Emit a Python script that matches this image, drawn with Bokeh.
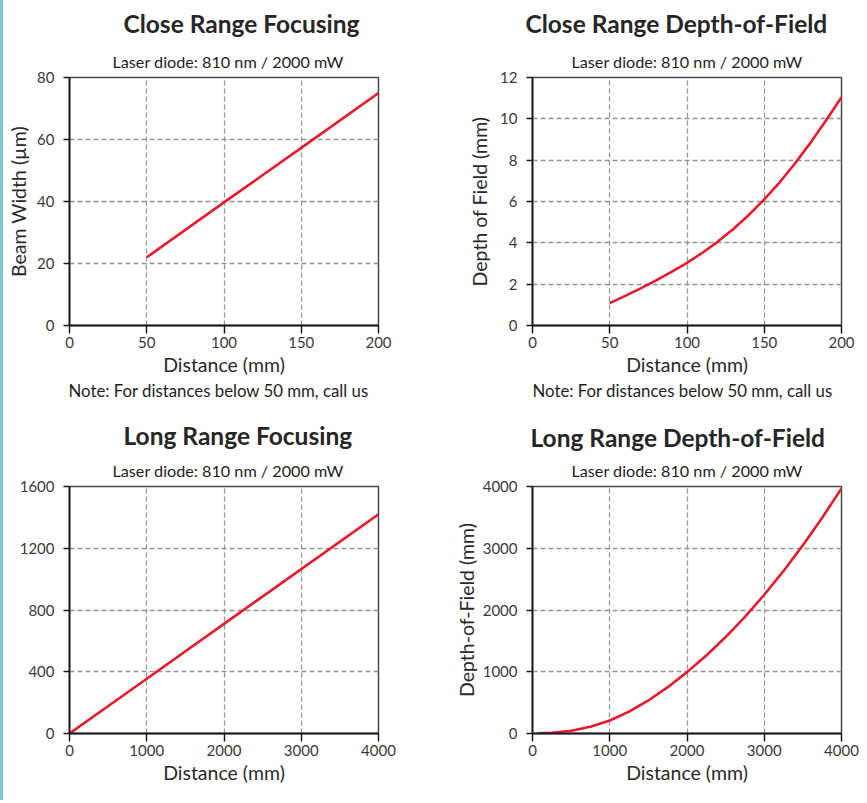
from bokeh.plotting import figure
from bokeh.models import Title, FixedTicker, Range1d, Div
from bokeh.layouts import column, row
from bokeh.embed import file_html
from bokeh.resources import INLINE

FONT = "Lato"

# ---------------- data ----------------
subtitle = "Laser diode: 810 nm / 2000 mW"
note_text = "Note: For distances below 50 mm, call us"
x_label = "Distance (mm)"

cr_focus_title = "Close Range Focusing"
cr_focus_ylabel = "Beam Width (µm)"
cr_focus_x = [50, 100, 150, 200]
cr_focus_y = [22.0, 39.7, 57.3, 75.0]
cr_xticks = [0, 50, 100, 150, 200]
cr_focus_yticks = [0, 20, 40, 60, 80]

cr_dof_title = "Close Range Depth-of-Field"
cr_dof_ylabel = "Depth of Field (mm)"
cr_dof_x = [50, 60, 70, 80, 90, 100, 110, 120, 130, 140, 150, 160, 170, 180, 190, 200]
cr_dof_y = [1.08, 1.43, 1.80, 2.18, 2.59, 3.03, 3.52, 4.06, 4.67, 5.35, 6.10,
            6.93, 7.85, 8.85, 9.92, 11.05]
cr_dof_yticks = [0, 2, 4, 6, 8, 10, 12]

lr_focus_title = "Long Range Focusing"
lr_focus_x = [0, 1000, 2000, 3000, 4000]
lr_focus_y = [0, 355, 710, 1065, 1420]
lr_xticks = [0, 1000, 2000, 3000, 4000]
lr_focus_yticks = [0, 400, 800, 1200, 1600]

lr_dof_title = "Long Range Depth-of-Field"
lr_dof_ylabel = "Depth-of-Field (mm)"
lr_dof_x = [65, 250, 500, 750, 1000, 1250, 1500, 1750, 2000, 2250, 2500,
            2750, 3000, 3250, 3500, 3750, 4000]
lr_dof_y = [3, 12, 45, 110, 210, 355, 535, 750, 994, 1263, 1562,
            1890, 2247, 2633, 3049, 3494, 3968]
lr_dof_yticks = [0, 1000, 2000, 3000, 4000]

RED = "#e8192c"


def make_fig(xmax, ymax, xticks, yticks, bl, br, bt, bb, fh):
    p = figure(frame_width=309, frame_height=fh,
               min_border_left=bl, min_border_right=br,
               min_border_top=bt, min_border_bottom=bb,
               x_range=Range1d(0, xmax), y_range=Range1d(0, ymax),
               output_backend="svg", toolbar_location=None, tools="")
    p.background_fill_color = "white"
    p.border_fill_color = "white"
    p.outline_line_color = "#4a4a4a"
    p.outline_line_width = 1.5
    p.xaxis.ticker = FixedTicker(ticks=xticks)
    p.yaxis.ticker = FixedTicker(ticks=yticks)
    for ax in (p.xaxis, p.yaxis):
        ax.axis_line_color = "#1a1a1a"
        ax.axis_line_width = 1.8
        ax.major_tick_line_color = "#1a1a1a"
        ax.major_tick_line_width = 1.5
        ax.minor_tick_line_color = None
        ax.major_tick_in = 0
        ax.major_label_text_font = FONT
        ax.major_label_text_font_size = "15px"
        ax.major_label_text_color = "#3a3a3a"
        ax.axis_label_text_font = FONT
        ax.axis_label_text_font_size = "19.5px"
        ax.axis_label_text_font_style = "normal"
        ax.axis_label_text_color = "#2a2a2a"
    p.xaxis.major_tick_out = 8
    p.yaxis.major_tick_out = 6
    p.xaxis.major_label_standoff = 3
    p.yaxis.major_label_standoff = 9
    p.xaxis.axis_label = x_label
    p.xaxis.axis_label_standoff = 2
    p.grid.grid_line_color = "#959595"
    p.grid.grid_line_dash = "5 3"
    p.grid.grid_line_width = 1.3
    return p


def add_titles(p, title, t_off, s_off, t_standoff):
    p.add_layout(Title(text=subtitle, align="left", offset=s_off, standoff=14,
                       text_font=FONT, text_font_size="16.2px",
                       text_font_style="normal", text_color="#1e1e1e"), "above")
    p.add_layout(Title(text=title, align="left", offset=t_off, standoff=t_standoff,
                       text_font=FONT, text_font_size="24.5px",
                       text_font_style="bold", text_color="#262626"), "above")


def add_note(p, off):
    p.add_layout(Title(text=note_text, align="left", offset=off, standoff=3,
                       vertical_align="top",
                       text_font=FONT, text_font_size="16.8px",
                       text_font_style="normal", text_color="#1e1e1e"), "below")


# top-left
p1 = make_fig(200, 80, cr_xticks, cr_focus_yticks, 66, 67, 77, 79, 248)
p1.line(cr_focus_x, cr_focus_y, line_color=RED, line_width=2.6)
p1.yaxis.axis_label = cr_focus_ylabel
p1.yaxis.axis_label_standoff = 4
add_titles(p1, cr_focus_title, 54, 43, 10)
add_note(p1, -1)

# top-right
p2 = make_fig(200, 12, cr_xticks, cr_dof_yticks, 87, 20, 77, 79, 248)
p2.line(cr_dof_x, cr_dof_y, line_color=RED, line_width=2.6, line_join="round")
p2.yaxis.axis_label = cr_dof_ylabel
p2.yaxis.axis_label_standoff = 6
add_titles(p2, cr_dof_title, -7, 39, 10)
add_note(p2, 0)

# bottom-left
p3 = make_fig(4000, 1600, lr_xticks, lr_focus_yticks, 66, 67, 82, 66, 247)
p3.line(lr_focus_x, lr_focus_y, line_color=RED, line_width=2.6)
add_titles(p3, lr_focus_title, 54, 43, 4)

# bottom-right
p4 = make_fig(4000, 4000, lr_xticks, lr_dof_yticks, 87, 20, 82, 66, 247)
p4.line(lr_dof_x, lr_dof_y, line_color=RED, line_width=2.6, line_join="round")
p4.yaxis.axis_label = lr_dof_ylabel
p4.yaxis.axis_label_standoff = 2
add_titles(p4, lr_dof_title, -2, 39, 0)

edge = Div(text="", width=3, height=800, margin=0,
           styles={"background-color": "#7cc6d8"})

layout = row(edge, column(row(p1, p2), row(p3, p4)))

open("out.html", "w").write(file_html(layout, INLINE))
